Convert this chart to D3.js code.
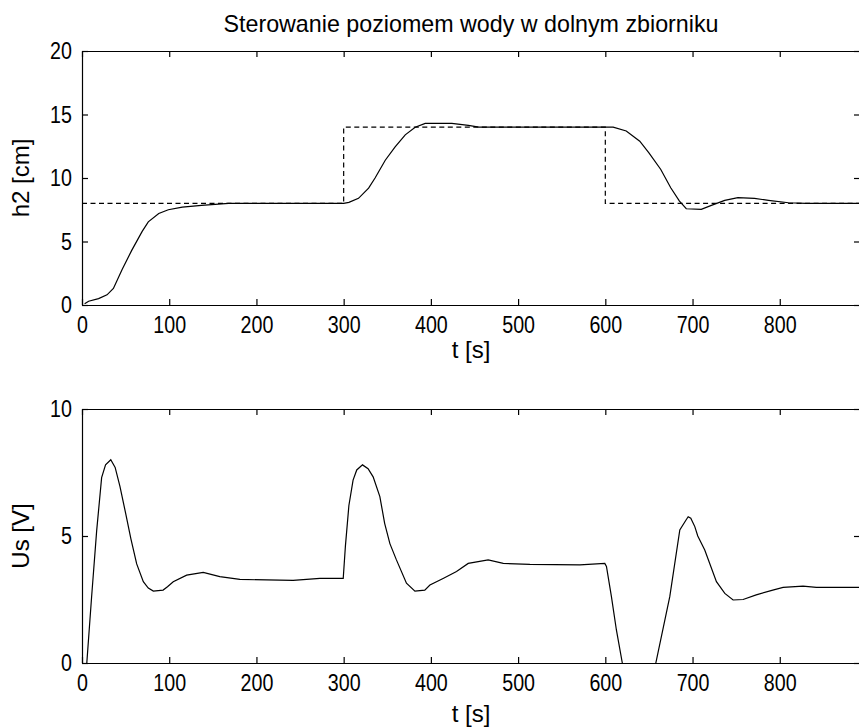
<!DOCTYPE html>
<html>
<head>
<meta charset="utf-8">
<script src="https://cdn.jsdelivr.net/npm/d3@7"></script>
<style>
  body { margin: 0; background: #fff; }
  svg { display: block; }
  text { font-family: "Liberation Sans", Arial, sans-serif; font-size: 24px; fill: #000; }
</style>
</head>
<body>
<div id="wykres"></div>
<script>
// dane
const xTicks = [0, 100, 200, 300, 400, 500, 600, 700, 800];
const h2Ticks = [0, 5, 10, 15, 20];
const usTicks = [0, 5, 10];

// wartosc zadana (linia przerywana)
const tRef = [0, 300, 300, 600, 600, 892];
const hRef = [8, 8, 14, 14, 8, 8];

// poziom wody h2 [cm]
const tH = [3, 7.6, 19, 28.7, 36, 46, 57, 69, 76, 88, 99, 115, 137, 168, 300, 306, 317, 328.6, 336, 347.7,
  359, 370.6, 382, 393.5, 424, 443, 455, 609, 624, 639.5, 650, 663.6, 675, 685, 692.8, 710, 721.6,
  736.9, 752, 771, 787, 810, 830, 892];
const h2 = [0.1, 0.3, 0.5, 0.8, 1.3, 2.8, 4.3, 5.8, 6.55, 7.2, 7.5, 7.7, 7.85, 8.0, 8.0, 8.08, 8.4, 9.2, 10.0, 11.4,
  12.45, 13.4, 14.0, 14.3, 14.3, 14.15, 14.0, 14.0, 13.7, 12.9, 11.98, 10.67, 9.23, 8.18, 7.58, 7.53, 7.84,
  8.24, 8.45, 8.39, 8.24, 8.05, 8.0, 8.0];

// napiecie sterujace Us [V]
const tU = [5.5, 11, 16.8, 22.5, 27, 33, 38, 43.5, 50, 56, 62.7, 70.3, 76, 81.8, 93, 98, 104.6, 120, 139, 158,
  181, 211.6, 242, 272.8, 299.5, 302, 306, 310.8, 315, 321.6, 328, 333.8, 341.5, 347, 353, 360.5, 372,
  381.7, 393, 398.9, 414, 429.4, 442.8, 465.7, 483, 513.5, 570.8, 599.4, 601.3, 607, 612.7, 619.5, 639,
  657.9, 673.9, 685.4, 692, 695, 698, 702.6, 706, 714, 727.4, 737, 746.5, 758, 773, 792, 803.8, 826.7,
  842, 892];
const us = [0, 2.6, 5.2, 7.3, 7.8, 8.0, 7.7, 6.95, 5.9, 4.9, 3.9, 3.2, 2.95, 2.83, 2.87, 3.0, 3.2, 3.46, 3.57, 3.4,
  3.29, 3.27, 3.25, 3.33, 3.33, 4.6, 6.2, 7.2, 7.6, 7.8, 7.65, 7.33, 6.55, 5.5, 4.7, 4.06, 3.14,
  2.83, 2.87, 3.07, 3.33, 3.6, 3.92, 4.06, 3.92, 3.88, 3.86, 3.92, 3.8, 2.61, 1.3, 0, -4.2,
  0, 2.61, 5.24, 5.6, 5.76, 5.7, 5.37, 5.0, 4.45, 3.2, 2.74, 2.48, 2.5, 2.68, 2.87, 2.98, 3.03,
  2.98, 2.98];

const W = 859, H = 727;
const svg = d3.select('#wykres').append('svg').attr('width', W).attr('height', H);

const x = d3.scaleLinear().domain([0, 892]).range([82, 860]);

/*
 * rysuje jeden wykres (osie w ramce, ticki do srodka)
 */
function rysuj_os(y, ticks, top, bottom, ylabel, ylabelY, xlabelY, id){
  const g = svg.append('g');

  // os dolna z opisami
  const dol = g.append('g').attr('transform', 'translate(0,' + bottom + ')')
    .call(d3.axisBottom(x).tickValues(xTicks).tickSizeInner(-6).tickSizeOuter(0).tickPadding(11));
  dol.selectAll('text').attr('transform', 'scale(0.82,1)');
  // os gorna bez opisow
  g.append('g').attr('transform', 'translate(0,' + top + ')')
    .call(d3.axisTop(x).tickValues(xTicks).tickSizeInner(-6).tickSizeOuter(0).tickFormat(''));
  // os lewa
  const lewa = g.append('g').attr('transform', 'translate(82,0)')
    .call(d3.axisLeft(y).tickValues(ticks).tickSizeInner(-6).tickSizeOuter(0));
  lewa.selectAll('text').attr('x', 0).attr('transform', 'translate(-10,0) scale(0.82,1)');
  // os prawa
  g.append('g').attr('transform', 'translate(860,0)')
    .call(d3.axisRight(y).tickValues(ticks).tickSizeInner(-6).tickSizeOuter(0).tickFormat(''));

  g.selectAll('.domain').attr('stroke', '#000').attr('stroke-width', 1.2);
  g.selectAll('.tick line').attr('stroke', '#000').attr('stroke-width', 1.2);
  g.selectAll('.tick text').style('font-size', '24px').style('font-family', '"Liberation Sans", Arial, sans-serif');

  svg.append('clipPath').attr('id', id).append('rect')
    .attr('x', 82).attr('y', top).attr('width', 860 - 82).attr('height', bottom - top);

  svg.append('text').attr('x', 471).attr('y', xlabelY).attr('text-anchor', 'middle').text('t [s]');
  svg.append('text').attr('transform', 'translate(29,' + ylabelY + ') rotate(-90)')
    .attr('text-anchor', 'middle').text(ylabel);
}

const yH = d3.scaleLinear().domain([0, 20]).range([305, 51]);
const yU = d3.scaleLinear().domain([0, 10]).range([663, 409]);

rysuj_os(yH, h2Ticks, 51, 305, 'h2 [cm]', 178, 358, 'klip1');
rysuj_os(yU, usTicks, 409, 663, 'Us [V]', 536, 722, 'klip2');

svg.append('text').attr('x', 471).attr('y', 32).attr('text-anchor', 'middle')
  .attr('textLength', 495).attr('lengthAdjust', 'spacingAndGlyphs')
  .text('Sterowanie poziomem wody w dolnym zbiorniku');

// linia zadana
svg.append('path')
  .datum(d3.zip(tRef, hRef))
  .attr('clip-path', 'url(#klip1)')
  .attr('d', d3.line().x(d => x(d[0])).y(d => yH(d[1])))
  .attr('fill', 'none').attr('stroke', '#000').attr('stroke-width', 1.2)
  .attr('stroke-dasharray', '5,3.5');

// odpowiedz h2
svg.append('path')
  .datum(d3.zip(tH, h2))
  .attr('clip-path', 'url(#klip1)')
  .attr('d', d3.line().x(d => x(d[0])).y(d => yH(d[1])))
  .attr('fill', 'none').attr('stroke', '#000').attr('stroke-width', 1.2);

// sterowanie Us
svg.append('path')
  .datum(d3.zip(tU, us))
  .attr('clip-path', 'url(#klip2)')
  .attr('d', d3.line().x(d => x(d[0])).y(d => yU(d[1])))
  .attr('fill', 'none').attr('stroke', '#000').attr('stroke-width', 1.2);
</script>
</body>
</html>
